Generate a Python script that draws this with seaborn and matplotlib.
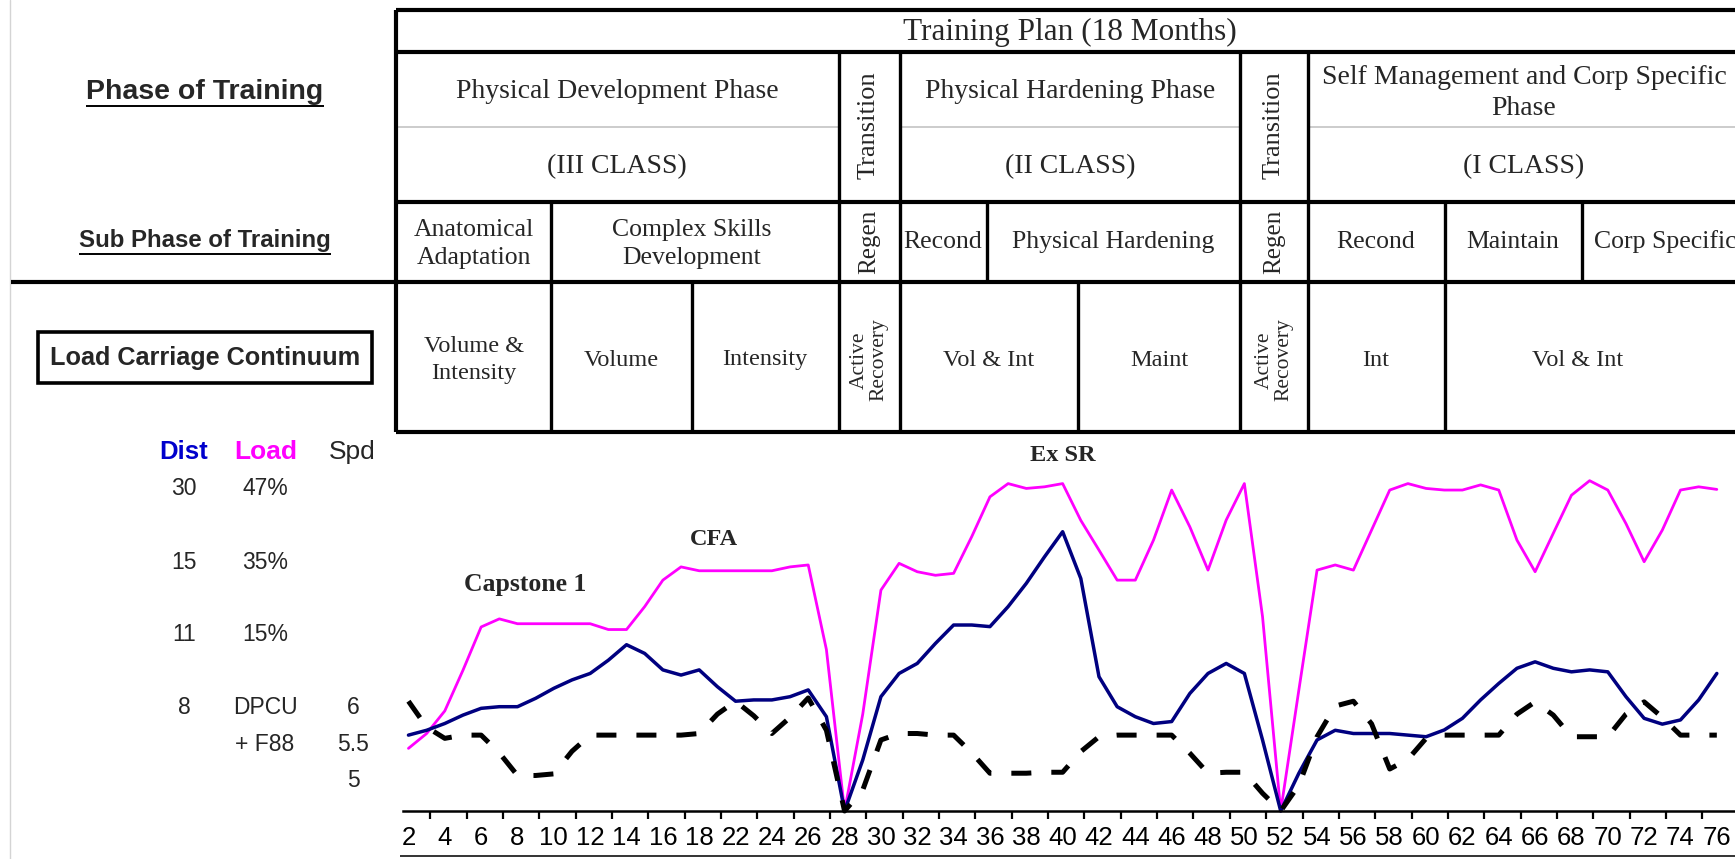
"""
Load carriage continuum chart with the training plan table above it.
Draws out.png (1735x859).
"""
import matplotlib
matplotlib.use("Agg")
import matplotlib.pyplot as plt
import matplotlib.transforms as mtransforms
import numpy as np
import pandas as pd
import seaborn as sns
from matplotlib.patches import Rectangle

W, H = 1735, 859
SERIF = "Liberation Serif"
SANS = "Liberation Sans"

# --- data ---
week_labels = ["2", "4", "6", "8", "10", "12", "14", "16", "18", "22", "24",
               "26", "28", "30", "32", "34", "36", "38", "40", "42", "44",
               "46", "48", "50", "52", "54", "56", "58", "60", "62", "64",
               "66", "68", "70", "72", "74", "76"]

# relative level (0 = axis, 100 = top scale row), sampled every half label
load = [19.4, 24, 31, 43.6, 57, 59.5, 58, 58, 58, 58,
        58, 56.2, 56.2, 63.3, 71.5, 75.6, 74.4, 74.4, 74.4, 74.4,
        74.4, 75.6, 76.2, 50, 0, 30, 68.4, 76.7, 74.1, 73,
        73.6, 85, 97.3, 101.4, 99.9, 100.4, 101.4, 90, 80.8, 71.5,
        71.5, 83.9, 99.4, 88, 74.6, 90.1, 101.4, 60.2, 0, 37.5,
        74.6, 76.2, 74.6, 87, 99.4, 101.4, 99.9, 99.4, 99.4, 101,
        99.4, 83.9, 74.1, 86, 97.8, 102.3, 99.4, 89, 77.2, 87,
        99.4, 100.4, 99.6]
dist = [23.5, 25, 27.1, 29.7, 31.8, 32.3, 32.3, 34.9, 38, 40.6,
        42.6, 46.7, 51.5, 48.8, 43.7, 42.1, 43.7, 38.5, 34, 34.4,
        34.4, 35.4, 37.5, 29.2, 0, 15.8, 35.4, 42.6, 45.7, 51.9,
        57.6, 57.6, 57.1, 63.3, 70.5, 78.7, 86.5, 72, 41.6, 32.3,
        29.2, 27.1, 27.7, 36.4, 42.6, 45.7, 42.6, 22, 0, 11.7,
        22, 25, 24, 24, 24, 23.5, 23, 25.1, 28.7, 34.4,
        39.5, 44.2, 46.2, 44.2, 43.1, 43.7, 43.1, 35.4, 28.7, 26.9,
        28.2, 34.4, 42.6]
spd = [34, 26, 22.5, 23.5, 23.5, 18, 11, 11, 11.5, 18.5,
       23.5, 23.5, 23.5, 23.5, 23.5, 23.5, 24, 30, 34, 29.5,
       24, 29, 35, 25, 0, 6.5, 22, 24, 24, 23.5,
       23.5, 18, 11.7, 11.7, 11.7, 12, 12, 18.4, 23, 23.5,
       23.5, 23.5, 23.5, 17.9, 11.7, 12, 12, 5.5, 0, 8,
       23, 32.5, 34, 27, 13, 16, 22.5, 23.5, 23.5, 23.5,
       23.5, 30, 33.8, 29.7, 23, 23, 23, 30, 33.8, 29,
       23.5, 23.5, 23.5]

scale_levels = [100, 77.1, 54.8, 32.2, 20.7, 9.3]
dist_scale = ["30", "15", "11", "8", "", ""]
load_scale = ["47%", "35%", "15%", "DPCU", "+ F88", ""]
spd_scale = ["", "", "", "6", "5.5", "5"]

events = ["Capstone 1", "CFA", "Ex SR"]

assert len(load) == len(dist) == len(spd) == 2 * len(week_labels) - 1


def main():
    sns.set_theme(style="white")
    plt.rcParams["font.family"] = [SANS, "DejaVu Sans"]

    fig = plt.figure(figsize=(W / 100, H / 100), dpi=100)
    fig.patch.set_facecolor("white")

    # pixel-space frame for the table and side labels
    frame = fig.add_axes([0, 0, 1, 1])
    frame.set_xlim(0, W)
    frame.set_ylim(H, 0)
    frame.axis("off")

    def hline(y, x0, x1, lw=2.4, color="black"):
        frame.plot([x0, x1], [y, y], color=color, lw=lw, solid_capstyle="butt")

    def vline(x, y0, y1, lw=2.4):
        frame.plot([x, x], [y0, y1], color="black", lw=lw, solid_capstyle="butt")

    def cell(x, y, s, size, rot=0, ls=1.25):
        frame.text(x, y, s, ha="center", va="center", fontsize=size,
                   family=SERIF, rotation=rot, linespacing=ls,
                   multialignment="center")

    # --- table grid ---
    frame.plot([10, 10], [0, H], color="#d4d4d4", lw=1)
    hline(10, 396, W, lw=3)
    hline(52, 396, W, lw=3)
    for x0, x1 in [(396, 839), (900, 1240), (1308, W)]:
        hline(127, x0, x1, lw=1.3, color="#c8c8c8")
    hline(202, 396, W, lw=3)
    hline(282, 11, W, lw=3)
    hline(432, 396, W, lw=3)
    vline(396, 10, 432, lw=3)
    for x in [839, 900, 1240, 1308]:
        vline(x, 52, 432)
    for x in [551, 1445]:
        vline(x, 202, 432)
    for x in [987, 1582]:
        vline(x, 202, 282)
    for x in [692, 1078]:
        vline(x, 282, 432)

    # --- table text ---
    cell(1070, 32, "Training Plan (18 Months)", 22.5)
    cell(617, 92, "Physical Development Phase", 20)
    cell(617, 167, "(III CLASS)", 20)
    cell(1070, 92, "Physical Hardening Phase", 20)
    cell(1070, 167, "(II CLASS)", 20)
    cell(1524, 93, "Self Management and Corp Specific\nPhase", 20, ls=1.3)
    cell(1524, 167, "(I CLASS)", 20)

    cell(474, 244, "Anatomical\nAdaptation", 18.5, ls=1.35)
    cell(692, 244, "Complex Skills\nDevelopment", 18.5, ls=1.35)
    cell(943, 242, "Recond", 18.5)
    cell(1113, 242, "Physical Hardening", 18.5)
    cell(1376, 242, "Recond", 18.5)
    cell(1513, 242, "Maintain", 18.5)
    cell(1665, 242, "Corp Specific", 18.5)

    cell(474, 360, "Volume &\nIntensity", 17.5, ls=1.4)
    cell(621, 360, "Volume", 17.5)
    cell(765, 360, "Intensity", 17.5)
    cell(989, 360, "Vol & Int", 17.5)
    cell(1159, 360, "Maint", 17.5)
    cell(1376, 360, "Int", 17.5)
    cell(1578, 360, "Vol & Int", 17.5)

    for xc in [869, 1274]:
        cell(xc, 125, "Transition", 19, rot=90)
        cell(xc, 242, "Regen", 18, rot=90)
        cell(xc, 360, "Active\nRecovery", 15.5, rot=90, ls=1.0)

    # --- left-hand labels ---
    renderer = fig.canvas.get_renderer()
    inv = frame.transData.inverted()
    for y, s, size in [(92, "Phase of Training", 20.5),
                       (240, "Sub Phase of Training", 17.3)]:
        t = frame.text(205, y, s, ha="center", va="center", fontsize=size,
                       fontweight="bold", family=SANS)
        bb = t.get_window_extent(renderer)
        (xa, _), (xb, _) = inv.transform([(bb.x0, bb.y0), (bb.x1, bb.y0)])
        hline(y + 14, xa, xb, lw=1.4)

    frame.add_patch(Rectangle((38, 332), 334, 51, fill=False, lw=2.6,
                              edgecolor="black"))
    frame.text(205, 358, "Load Carriage Continuum", ha="center", va="center",
               fontsize=18.2, fontweight="bold", family=SANS)

    # --- chart ---
    ax = fig.add_axes([403 / W, (H - 811) / H, (W - 403) / W, (811 - 440) / H])
    ax.patch.set_visible(False)
    df = pd.DataFrame({"pos": np.arange(len(load)) / 2,
                       "Load": load, "Dist": dist, "Spd": spd})
    sns.lineplot(data=df, x="pos", y="Load", color="#ff00ff", lw=2.0, ax=ax)
    sns.lineplot(data=df, x="pos", y="Dist", color="#000080", lw=2.5, ax=ax)
    sns.lineplot(data=df, x="pos", y="Spd", color="black", lw=3.6, ax=ax)
    ax.lines[-1].set_dashes([4, 4])
    for ln in ax.lines:
        ln.set_clip_on(False)
        ln.set_solid_joinstyle("round")

    ax.set_xlim(-0.15, 36.5)
    ax.set_ylim(0, 114.9)
    ax.set_xlabel("")
    ax.set_ylabel("")
    ax.set_yticks([])
    ax.set_xticks(range(len(week_labels)))
    ax.set_xticklabels(week_labels, fontsize=18.5, family=SANS)
    ax.set_xticks(np.arange(1, len(week_labels)) - 0.4, minor=True)
    ax.tick_params(axis="x", which="major", length=0, pad=11, colors="black")
    ax.tick_params(axis="x", which="minor", length=6, width=1.6,
                   direction="out", color="black", bottom=True)
    for side in ["left", "right", "top"]:
        ax.spines[side].set_visible(False)
    ax.spines["bottom"].set_color("black")
    ax.spines["bottom"].set_linewidth(1.8)
    hline(856, 400, W, lw=1.4, color="#333333")

    # event annotations
    for name, (xp, lv, size) in zip(events, [(3.2, 70, 18.5), (8.4, 84, 17.5),
                                             (18.0, 110, 17.5)]):
        ax.text(xp, lv, name, ha="center", va="center", fontsize=size,
                fontweight="bold", family=SERIF)

    # scale columns to the left of the chart
    trans = mtransforms.blended_transform_factory(frame.transData, ax.transData)
    frame.text(184, 452, "Dist", ha="center", va="center", fontsize=18.5,
               fontweight="bold", color="#0000cc")
    frame.text(266, 452, "Load", ha="center", va="center", fontsize=19,
               fontweight="bold", color="#ff00ff")
    frame.text(352, 452, "Spd", ha="center", va="center", fontsize=19)
    for lv, d, l, s in zip(scale_levels, dist_scale, load_scale, spd_scale):
        ax.text(184, lv, d, transform=trans, ha="center", va="center", fontsize=16.5)
        ax.text(265, lv, l, transform=trans, ha="center", va="center", fontsize=16.5)
        ax.text(353, lv, s, transform=trans, ha="center", va="center", fontsize=16.5)

    fig.savefig("out.png", dpi=100, facecolor="white")
    plt.close(fig)


if __name__ == "__main__":
    main()
